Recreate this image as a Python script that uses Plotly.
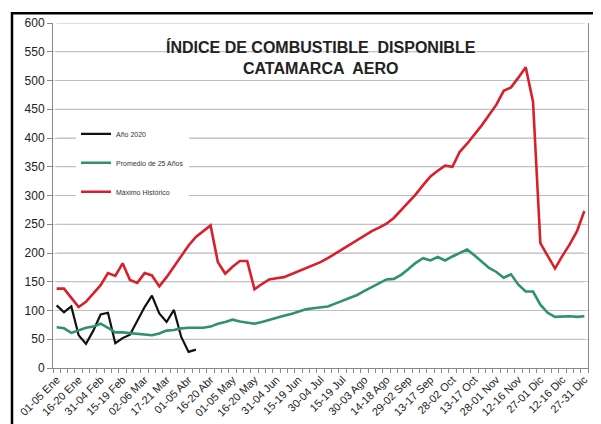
import plotly.graph_objects as go

categories = [
    "01-05 Ene", "06-10 Ene", "11-15 Ene", "16-20 Ene", "21-25 Ene", "26-30 Ene",
    "31-04 Feb", "05-09 Feb", "10-14 Feb", "15-19 Feb", "20-24 Feb", "25-01 Mar",
    "02-06 Mar", "07-11 Mar", "12-16 Mar", "17-21 Mar", "22-26 Mar", "27-31 Mar",
    "01-05 Abr", "06-10 Abr", "11-15 Abr", "16-20 Abr", "21-25 Abr", "26-30 Abr",
    "01-05 May", "06-10 May", "11-15 May", "16-20 May", "21-25 May", "26-30 May",
    "31-04 Jun", "05-09 Jun", "10-14 Jun", "15-19 Jun", "20-24 Jun", "25-29 Jun",
    "30-04 Jul", "05-09 Jul", "10-14 Jul", "15-19 Jul", "20-24 Jul", "25-29 Jul",
    "30-03 Ago", "04-08 Ago", "09-13 Ago", "14-18 Ago", "19-23 Ago", "24-28 Ago",
    "29-02 Sep", "03-07 Sep", "08-12 Sep", "13-17 Sep", "18-22 Sep", "23-27 Sep",
    "28-02 Oct", "03-07 Oct", "08-12 Oct", "13-17 Oct", "18-22 Oct", "23-27 Oct",
    "28-01 Nov", "02-06 Nov", "07-11 Nov", "12-16 Nov", "17-21 Nov", "22-26 Nov",
    "27-01 Dic", "02-06 Dic", "07-11 Dic", "12-16 Dic", "17-21 Dic", "22-26 Dic",
    "27-31 Dic",
]

tick_labels = [
    "01-05 Ene", "16-20 Ene", "31-04 Feb", "15-19 Feb", "02-06 Mar", "17-21 Mar",
    "01-05 Abr", "16-20 Abr", "01-05 May", "16-20 May", "31-04 Jun", "15-19 Jun",
    "30-04 Jul", "15-19 Jul", "30-03 Ago", "14-18 Ago", "29-02 Sep", "13-17 Sep",
    "28-02 Oct", "13-17 Oct", "28-01 Nov", "12-16 Nov", "27-01 Dic", "12-16 Dic",
    "27-31 Dic",
]

anio_2020 = [109, 97, 107, 57, 42, 65, 93, 96, 43, 52, 58, 83, 106, 126, 95, 80,
             101, 54, 28, 32]

promedio_25 = [71, 69, 61, 66, 70, 72, 77, 70, 62, 62, 61, 60, 58, 57, 60, 65,
               66, 69, 70, 70, 70, 72, 77, 80, 84, 81, 79, 77, 80, 84, 87, 91,
               94, 98, 102, 104, 105, 107, 112, 117, 122, 127, 134, 141, 147, 154,
               155, 162, 172, 183, 191, 187, 193, 187, 194, 200, 206, 196, 185,
               174, 167, 157, 163, 145, 133, 133, 110, 96, 89, 90, 90, 89, 90]

maximo_hist = [138, 138, 122, 106, 115, 129, 144, 165, 160, 182, 153, 148, 165,
               161, 142, 158, 176, 196, 213, 228, 238, 248, 184, 164, 176, 186,
               186, 137, 146, 154, 156, 158, 163, 168, 173, 178, 184, 191, 199,
               207, 214, 222, 230, 238, 244, 251, 261, 275, 288, 302, 318, 333,
               343, 352, 350, 376, 390, 405, 422, 440, 458, 482, 488, 505, 523,
               463, 217, 195, 173, 195, 215, 238, 273]

y_ticks = [0, 50, 100, 150, 200, 250, 300, 350, 400, 450, 500, 550, 600]

fig = go.Figure()

# horizontal gridlines drawn as a background trace (one segment per y tick)
grid_x, grid_y = [], []
for v in y_ticks[1:]:
    grid_x += [categories[0], categories[-1], None]
    grid_y += [v, v, None]
fig.add_trace(go.Scatter(x=grid_x, y=grid_y, mode="lines", showlegend=False,
                         hoverinfo="skip", line=dict(color="#BDBDBD", width=1),
                         connectgaps=False))

fig.add_trace(go.Scatter(x=categories[:len(anio_2020)], y=anio_2020, mode="lines",
                         name="Año 2020", line=dict(color="#111111", width=2.2),
                         legendgroup="a"))
fig.add_trace(go.Scatter(x=categories, y=promedio_25, mode="lines",
                         name="Promedio de 25 Años", line=dict(color="#2F9366", width=2.6),
                         legendgroup="b"))
fig.add_trace(go.Scatter(x=categories, y=maximo_hist, mode="lines",
                         name="Máximo Histórico", line=dict(color="#D9202A", width=2.6),
                         legendgroup="c"))

ticktext = [c if c in tick_labels else "" for c in categories]

# page body has an 8px margin: figure covers page pixels 8..601 x 8..424
OFF = 8
W, H = 601 - OFF, 424 - OFF
L, R, T, B = 53 - OFF, 13, 22.7 - OFF, 56.3
pw, ph = W - L - R, H - T - B

def px_x(page_x):
    return (page_x - OFF - L) / pw

def px_y(page_y):
    return 1 - (page_y - OFF - T) / ph

border = dict(type="rect", xref="paper", yref="paper",
              x0=px_x(12), x1=px_x(598), y0=px_y(13), y1=px_y(470),
              line=dict(color="black", width=2.5), fillcolor="rgba(0,0,0,0)",
              layer="above")

fig.update_layout(
    width=W, height=H,
    margin=dict(l=L, r=R, t=T, b=B, pad=0, autoexpand=False),
    paper_bgcolor="white", plot_bgcolor="white",
    font=dict(family="Liberation Sans, Arial, sans-serif", color="#222222"),
    showlegend=True,
    legend=dict(x=px_x(76), y=px_y(119), xanchor="left", yanchor="top",
                bgcolor="white", borderwidth=0, font=dict(size=7, color="#333333"),
                tracegroupgap=10, traceorder="grouped"),
    xaxis=dict(type="category", categoryorder="array", categoryarray=categories,
               range=[-0.5, len(categories) - 0.5], automargin=False,
               tickmode="array", tickvals=categories, ticktext=ticktext,
               tickson="boundaries", ticks="outside", ticklen=4, tickcolor="#888888",
               tickangle=-45, tickfont=dict(size=11, color="#222222"),
               showgrid=False, showline=True, linecolor="#888888", linewidth=1,
               zeroline=False),
    yaxis=dict(range=[0, 600], tickmode="array", tickvals=y_ticks, automargin=False,
               ticks="outside", ticklen=5, tickcolor="#888888",
               tickfont=dict(size=12, color="#222222"),
               showgrid=True, gridcolor="#D2D2D2", gridwidth=1,
               showline=True, linecolor="#888888", linewidth=1, mirror=True,
               zeroline=False),
    annotations=[dict(
        text="<b>ÍNDICE DE COMBUSTIBLE  DISPONIBLE</b><br><b>CATAMARCA  AERO</b>",
        xref="paper", yref="paper", x=0.5, y=px_y(57.5), xanchor="center",
        yanchor="middle", showarrow=False,
        font=dict(size=16, color="#222222", family="Liberation Sans, Arial, sans-serif"))],
    shapes=[border],
)

fig.write_html("out.html")
